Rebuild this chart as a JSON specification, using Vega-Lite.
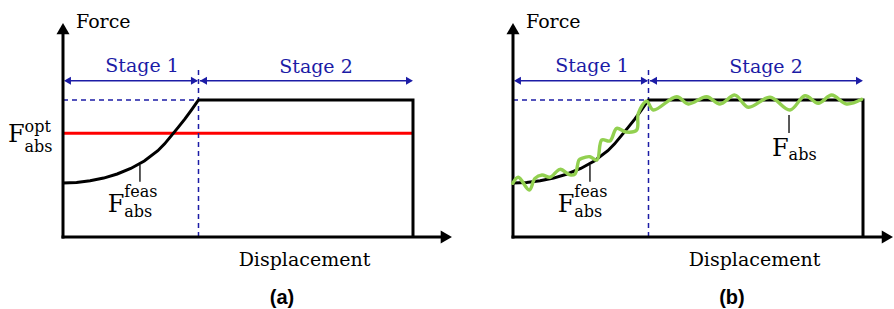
{
  "$schema": "https://vega.github.io/schema/vega-lite/v6.json",
  "padding": 0,
  "bounds": "flush",
  "spacing": 0,
  "config": {"view": {"stroke": null}, "concat": {"spacing": 0}},
  "resolve": {"scale": {"x": "independent", "y": "independent"}},
  "datasets": {
    "shapes": [
      {"panel": "a", "kind": "axis", "x": 0, "y": 0, "x2": 2.82, "y2": 0},
      {"panel": "a", "kind": "axis", "x": 0, "y": 0, "x2": 0, "y2": 1.52},
      {"panel": "a", "kind": "ar", "x": 2.829, "y": 0},
      {"panel": "a", "kind": "au", "x": 0, "y": 1.521},
      {"panel": "a", "kind": "dash", "x": 1, "y": 0, "x2": 1, "y2": 1.22},
      {"panel": "a", "kind": "dash", "x": 0, "y": 1, "x2": 1, "y2": 1},
      {"panel": "a", "kind": "stage", "x": 0.02, "y": 1.141, "x2": 0.99, "y2": 1.141},
      {"panel": "a", "kind": "stage", "x": 1.01, "y": 1.141, "x2": 2.57, "y2": 1.141},
      {"panel": "a", "kind": "sl", "x": 0.033, "y": 1.141},
      {"panel": "a", "kind": "sr", "x": 0.97, "y": 1.141},
      {"panel": "a", "kind": "sl", "x": 1.037, "y": 1.141},
      {"panel": "a", "kind": "sr", "x": 2.557, "y": 1.141},
      {"panel": "a", "kind": "red", "x": 0, "y": 0.757, "x2": 2.583, "y2": 0.757},
      {"panel": "a", "kind": "tick", "x": 0.568, "y": 0.404, "x2": 0.568, "y2": 0.526},

      {"panel": "b", "kind": "axis", "x": 0, "y": 0, "x2": 2.76, "y2": 0},
      {"panel": "b", "kind": "axis", "x": 0, "y": 0, "x2": 0, "y2": 1.52},
      {"panel": "b", "kind": "ar", "x": 2.763, "y": 0},
      {"panel": "b", "kind": "au", "x": 0, "y": 1.521},
      {"panel": "b", "kind": "dash", "x": 1, "y": 0, "x2": 1, "y2": 1.22},
      {"panel": "b", "kind": "dash", "x": 0, "y": 1, "x2": 1, "y2": 1},
      {"panel": "b", "kind": "stage", "x": 0.02, "y": 1.141, "x2": 0.99, "y2": 1.141},
      {"panel": "b", "kind": "stage", "x": 1.01, "y": 1.141, "x2": 2.57, "y2": 1.141},
      {"panel": "b", "kind": "sl", "x": 0.033, "y": 1.141},
      {"panel": "b", "kind": "sr", "x": 0.97, "y": 1.141},
      {"panel": "b", "kind": "sl", "x": 1.037, "y": 1.141},
      {"panel": "b", "kind": "sr", "x": 2.557, "y": 1.141},
      {"panel": "b", "kind": "tick", "x": 0.568, "y": 0.404, "x2": 0.568, "y2": 0.526},
      {"panel": "b", "kind": "tick", "x": 2.037, "y": 0.759, "x2": 2.037, "y2": 0.891}
    ],
    "curve": [
      {"i": 0, "x": 0, "y": 0.394}, {"i": 1, "x": 0.1, "y": 0.398}, {"i": 2, "x": 0.2, "y": 0.41},
      {"i": 3, "x": 0.3, "y": 0.43}, {"i": 4, "x": 0.4, "y": 0.46}, {"i": 5, "x": 0.5, "y": 0.5},
      {"i": 6, "x": 0.6, "y": 0.555}, {"i": 7, "x": 0.7, "y": 0.63}, {"i": 8, "x": 0.75, "y": 0.68},
      {"i": 9, "x": 0.8, "y": 0.74}, {"i": 10, "x": 0.85, "y": 0.8}, {"i": 11, "x": 0.9, "y": 0.862},
      {"i": 12, "x": 0.95, "y": 0.93}, {"i": 13, "x": 1.0, "y": 1.0}, {"i": 14, "x": 2.583, "y": 1.0},
      {"i": 15, "x": 2.583, "y": 0}
    ],
    "green": [
      {"i": 0, "x": -0.002, "y": 0.392}, {"i": 1, "x": 0.039, "y": 0.436}, {"i": 2, "x": 0.12, "y": 0.343},
      {"i": 3, "x": 0.162, "y": 0.428}, {"i": 4, "x": 0.214, "y": 0.453}, {"i": 5, "x": 0.273, "y": 0.436},
      {"i": 6, "x": 0.347, "y": 0.494}, {"i": 7, "x": 0.421, "y": 0.453}, {"i": 8, "x": 0.458, "y": 0.46},
      {"i": 9, "x": 0.487, "y": 0.562}, {"i": 10, "x": 0.507, "y": 0.574}, {"i": 11, "x": 0.568, "y": 0.586},
      {"i": 12, "x": 0.62, "y": 0.562}, {"i": 13, "x": 0.655, "y": 0.708}, {"i": 14, "x": 0.716, "y": 0.701},
      {"i": 15, "x": 0.765, "y": 0.793}, {"i": 16, "x": 0.834, "y": 0.766}, {"i": 17, "x": 0.913, "y": 0.781},
      {"i": 18, "x": 0.925, "y": 0.903}, {"i": 19, "x": 0.987, "y": 0.992}, {"i": 20, "x": 1.035, "y": 0.927},
      {"i": 21, "x": 1.208, "y": 1.024}, {"i": 22, "x": 1.294, "y": 0.971}, {"i": 23, "x": 1.429, "y": 1.024},
      {"i": 24, "x": 1.528, "y": 0.971}, {"i": 25, "x": 1.638, "y": 1.036}, {"i": 26, "x": 1.737, "y": 0.947},
      {"i": 27, "x": 1.897, "y": 1.02}, {"i": 28, "x": 2.044, "y": 0.927}, {"i": 29, "x": 2.155, "y": 1.031},
      {"i": 30, "x": 2.253, "y": 0.976}, {"i": 31, "x": 2.352, "y": 1.036}, {"i": 32, "x": 2.462, "y": 0.971},
      {"i": 33, "x": 2.573, "y": 1.005}
    ],
    "texts": [
      {"panel": "a", "kind": "left", "label": "Force", "x": 0.096, "y": 1.526},
      {"panel": "a", "kind": "stage", "label": "Stage 1", "x": 0.583, "y": 1.204},
      {"panel": "a", "kind": "stage", "label": "Stage 2", "x": 1.867, "y": 1.197},
      {"panel": "a", "kind": "center", "label": "Displacement", "x": 1.782, "y": -0.212},
      {"panel": "a", "kind": "panel", "label": "(a)", "x": 1.616, "y": -0.49},
      {"panel": "a", "kind": "F", "label": "F", "x": -0.406, "y": 0.696},
      {"panel": "a", "kind": "script", "label": "opt", "x": -0.284, "y": 0.77},
      {"panel": "a", "kind": "script", "label": "abs", "x": -0.284, "y": 0.62},
      {"panel": "a", "kind": "F", "label": "F", "x": 0.33, "y": 0.185},
      {"panel": "a", "kind": "script", "label": "feas", "x": 0.452, "y": 0.295},
      {"panel": "a", "kind": "script", "label": "abs", "x": 0.452, "y": 0.145},
      {"panel": "b", "kind": "left", "label": "Force", "x": 0.096, "y": 1.526},
      {"panel": "b", "kind": "stage", "label": "Stage 1", "x": 0.583, "y": 1.204},
      {"panel": "b", "kind": "stage", "label": "Stage 2", "x": 1.867, "y": 1.197},
      {"panel": "b", "kind": "center", "label": "Displacement", "x": 1.782, "y": -0.212},
      {"panel": "b", "kind": "panel", "label": "(b)", "x": 1.616, "y": -0.49},
      {"panel": "b", "kind": "F", "label": "F", "x": 0.33, "y": 0.185},
      {"panel": "b", "kind": "script", "label": "feas", "x": 0.452, "y": 0.295},
      {"panel": "b", "kind": "script", "label": "abs", "x": 0.452, "y": 0.145},
      {"panel": "b", "kind": "F", "label": "F", "x": 1.912, "y": 0.591},
      {"panel": "b", "kind": "script", "label": "abs", "x": 2.034, "y": 0.56}
    ]
  },
  "hconcat": [
    {
      "width": 450,
      "height": 309,
      "encoding": {
        "x": {"field": "x", "type": "quantitative", "axis": null, "scale": {"domain": [-0.4649, 2.8561], "nice": false, "zero": false}},
        "y": {"field": "y", "type": "quantitative", "axis": null, "scale": {"domain": [-0.5255, 1.7299], "nice": false, "zero": false}}
      },
      "layer": [
        {"data": {"name": "shapes"}, "transform": [{"filter": "datum.panel === 'a' && datum.kind === 'red'"}], "mark": {"type": "rule", "color": "#ff0000", "strokeWidth": 3}, "encoding": {"x2": {"field": "x2"}, "y2": {"field": "y2"}}},
        {"data": {"name": "shapes"}, "transform": [{"filter": "datum.panel === 'a' && datum.kind === 'dash'"}], "mark": {"type": "rule", "color": "#1c1ca6", "strokeWidth": 1.5, "strokeDash": [5, 4]}, "encoding": {"x2": {"field": "x2"}, "y2": {"field": "y2"}}},
        {"data": {"name": "shapes"}, "transform": [{"filter": "datum.panel === 'a' && datum.kind === 'stage'"}], "mark": {"type": "rule", "color": "#1c1ca6", "strokeWidth": 1.5}, "encoding": {"x2": {"field": "x2"}, "y2": {"field": "y2"}}},
        {"data": {"name": "shapes"}, "transform": [{"filter": "datum.panel === 'a' && datum.kind === 'sl'"}], "mark": {"type": "point", "shape": "triangle-left", "filled": true, "color": "#1c1ca6", "size": 64, "opacity": 1}},
        {"data": {"name": "shapes"}, "transform": [{"filter": "datum.panel === 'a' && datum.kind === 'sr'"}], "mark": {"type": "point", "shape": "triangle-right", "filled": true, "color": "#1c1ca6", "size": 64, "opacity": 1}},
        {"data": {"name": "shapes"}, "transform": [{"filter": "datum.panel === 'a' && datum.kind === 'axis'"}], "mark": {"type": "rule", "color": "#000000", "strokeWidth": 3, "strokeCap": "square"}, "encoding": {"x2": {"field": "x2"}, "y2": {"field": "y2"}}},
        {"data": {"name": "shapes"}, "transform": [{"filter": "datum.panel === 'a' && datum.kind === 'ar'"}], "mark": {"type": "point", "shape": "triangle-right", "filled": true, "color": "#000000", "size": 169, "opacity": 1}},
        {"data": {"name": "shapes"}, "transform": [{"filter": "datum.panel === 'a' && datum.kind === 'au'"}], "mark": {"type": "point", "shape": "triangle-up", "filled": true, "color": "#000000", "size": 169, "opacity": 1}},
        {"data": {"name": "curve"}, "mark": {"type": "line", "color": "#000000", "strokeWidth": 3, "strokeJoin": "miter"}, "encoding": {"order": {"field": "i", "type": "quantitative"}}},
        {"data": {"name": "shapes"}, "transform": [{"filter": "datum.panel === 'a' && datum.kind === 'tick'"}], "mark": {"type": "rule", "color": "#000000", "strokeWidth": 1.3}, "encoding": {"x2": {"field": "x2"}, "y2": {"field": "y2"}}},
        {"data": {"name": "texts"}, "transform": [{"filter": "datum.panel === 'a' && datum.kind === 'left'"}], "mark": {"type": "text", "align": "left", "baseline": "alphabetic", "font": "DejaVu Serif", "fontSize": 19, "color": "#000000"}, "encoding": {"text": {"field": "label"}}},
        {"data": {"name": "texts"}, "transform": [{"filter": "datum.panel === 'a' && datum.kind === 'center'"}], "mark": {"type": "text", "align": "center", "baseline": "alphabetic", "font": "DejaVu Serif", "fontSize": 19, "color": "#000000"}, "encoding": {"text": {"field": "label"}}},
        {"data": {"name": "texts"}, "transform": [{"filter": "datum.panel === 'a' && datum.kind === 'stage'"}], "mark": {"type": "text", "align": "center", "baseline": "alphabetic", "font": "DejaVu Serif", "fontSize": 19, "color": "#1c1ca6"}, "encoding": {"text": {"field": "label"}}},
        {"data": {"name": "texts"}, "transform": [{"filter": "datum.panel === 'a' && datum.kind === 'F'"}], "mark": {"type": "text", "align": "left", "baseline": "alphabetic", "font": "DejaVu Serif", "fontSize": 24, "color": "#000000"}, "encoding": {"text": {"field": "label"}}},
        {"data": {"name": "texts"}, "transform": [{"filter": "datum.panel === 'a' && datum.kind === 'script'"}], "mark": {"type": "text", "align": "left", "baseline": "alphabetic", "font": "DejaVu Serif", "fontSize": 16, "color": "#000000"}, "encoding": {"text": {"field": "label"}}},
        {"data": {"name": "texts"}, "transform": [{"filter": "datum.panel === 'a' && datum.kind === 'panel'"}], "mark": {"type": "text", "align": "center", "baseline": "alphabetic", "font": "Liberation Sans", "fontWeight": "bold", "fontSize": 20, "color": "#000000"}, "encoding": {"text": {"field": "label"}}}
      ]
    },
    {
      "width": 444,
      "height": 309,
      "encoding": {
        "x": {"field": "x", "type": "quantitative", "axis": null, "scale": {"domain": [-0.4649, 2.8118], "nice": false, "zero": false}},
        "y": {"field": "y", "type": "quantitative", "axis": null, "scale": {"domain": [-0.5255, 1.7299], "nice": false, "zero": false}}
      },
      "layer": [
        {"data": {"name": "shapes"}, "transform": [{"filter": "datum.panel === 'b' && datum.kind === 'dash'"}], "mark": {"type": "rule", "color": "#1c1ca6", "strokeWidth": 1.5, "strokeDash": [5, 4]}, "encoding": {"x2": {"field": "x2"}, "y2": {"field": "y2"}}},
        {"data": {"name": "shapes"}, "transform": [{"filter": "datum.panel === 'b' && datum.kind === 'stage'"}], "mark": {"type": "rule", "color": "#1c1ca6", "strokeWidth": 1.5}, "encoding": {"x2": {"field": "x2"}, "y2": {"field": "y2"}}},
        {"data": {"name": "shapes"}, "transform": [{"filter": "datum.panel === 'b' && datum.kind === 'sl'"}], "mark": {"type": "point", "shape": "triangle-left", "filled": true, "color": "#1c1ca6", "size": 64, "opacity": 1}},
        {"data": {"name": "shapes"}, "transform": [{"filter": "datum.panel === 'b' && datum.kind === 'sr'"}], "mark": {"type": "point", "shape": "triangle-right", "filled": true, "color": "#1c1ca6", "size": 64, "opacity": 1}},
        {"data": {"name": "shapes"}, "transform": [{"filter": "datum.panel === 'b' && datum.kind === 'axis'"}], "mark": {"type": "rule", "color": "#000000", "strokeWidth": 3, "strokeCap": "square"}, "encoding": {"x2": {"field": "x2"}, "y2": {"field": "y2"}}},
        {"data": {"name": "shapes"}, "transform": [{"filter": "datum.panel === 'b' && datum.kind === 'ar'"}], "mark": {"type": "point", "shape": "triangle-right", "filled": true, "color": "#000000", "size": 169, "opacity": 1}},
        {"data": {"name": "shapes"}, "transform": [{"filter": "datum.panel === 'b' && datum.kind === 'au'"}], "mark": {"type": "point", "shape": "triangle-up", "filled": true, "color": "#000000", "size": 169, "opacity": 1}},
        {"data": {"name": "curve"}, "mark": {"type": "line", "color": "#000000", "strokeWidth": 3, "strokeJoin": "miter"}, "encoding": {"order": {"field": "i", "type": "quantitative"}}},
        {"data": {"name": "green"}, "mark": {"type": "line", "color": "#92d050", "strokeWidth": 3.4, "strokeJoin": "round", "strokeCap": "round", "interpolate": "catmull-rom"}, "encoding": {"order": {"field": "i", "type": "quantitative"}}},
        {"data": {"name": "shapes"}, "transform": [{"filter": "datum.panel === 'b' && datum.kind === 'tick'"}], "mark": {"type": "rule", "color": "#000000", "strokeWidth": 1.3}, "encoding": {"x2": {"field": "x2"}, "y2": {"field": "y2"}}},
        {"data": {"name": "texts"}, "transform": [{"filter": "datum.panel === 'b' && datum.kind === 'left'"}], "mark": {"type": "text", "align": "left", "baseline": "alphabetic", "font": "DejaVu Serif", "fontSize": 19, "color": "#000000"}, "encoding": {"text": {"field": "label"}}},
        {"data": {"name": "texts"}, "transform": [{"filter": "datum.panel === 'b' && datum.kind === 'center'"}], "mark": {"type": "text", "align": "center", "baseline": "alphabetic", "font": "DejaVu Serif", "fontSize": 19, "color": "#000000"}, "encoding": {"text": {"field": "label"}}},
        {"data": {"name": "texts"}, "transform": [{"filter": "datum.panel === 'b' && datum.kind === 'stage'"}], "mark": {"type": "text", "align": "center", "baseline": "alphabetic", "font": "DejaVu Serif", "fontSize": 19, "color": "#1c1ca6"}, "encoding": {"text": {"field": "label"}}},
        {"data": {"name": "texts"}, "transform": [{"filter": "datum.panel === 'b' && datum.kind === 'F'"}], "mark": {"type": "text", "align": "left", "baseline": "alphabetic", "font": "DejaVu Serif", "fontSize": 24, "color": "#000000"}, "encoding": {"text": {"field": "label"}}},
        {"data": {"name": "texts"}, "transform": [{"filter": "datum.panel === 'b' && datum.kind === 'script'"}], "mark": {"type": "text", "align": "left", "baseline": "alphabetic", "font": "DejaVu Serif", "fontSize": 16, "color": "#000000"}, "encoding": {"text": {"field": "label"}}},
        {"data": {"name": "texts"}, "transform": [{"filter": "datum.panel === 'b' && datum.kind === 'panel'"}], "mark": {"type": "text", "align": "center", "baseline": "alphabetic", "font": "Liberation Sans", "fontWeight": "bold", "fontSize": 20, "color": "#000000"}, "encoding": {"text": {"field": "label"}}}
      ]
    }
  ]
}
